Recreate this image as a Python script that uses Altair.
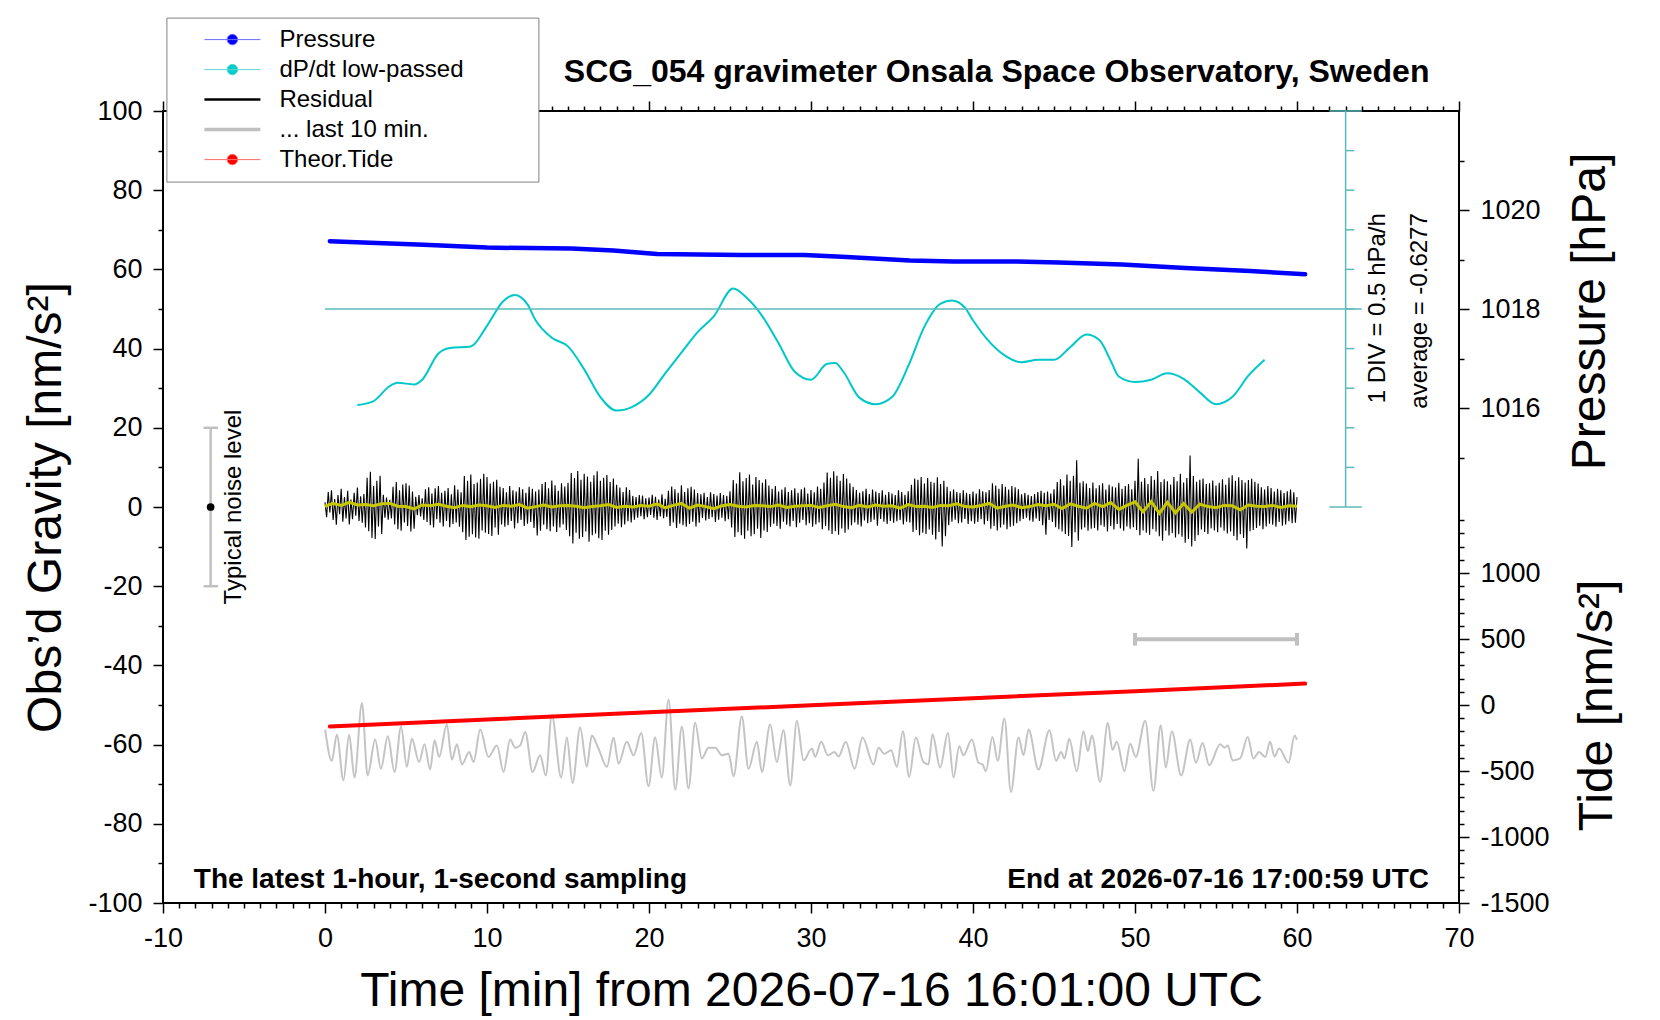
import altair as alt
import pandas as pd

FONT = "Liberation Sans"

# ---------------------------------------------------------------------------
# values
# ---------------------------------------------------------------------------

# residual gravity [nm/s^2], one value every 0.1 min from t = 0 to t = 60
residual_nm = [
    1.2, -2.6, 3.8, -1.4, 4.2, -3.3, 2.0, -4.5, 3.0, -1.8, 4.6, -3.7, 2.5, -2.9, 4.1, -4.4, 1.9, -3.1, 3.6, -2.2, 4.9, -3.5, 2.7, -4.0, 3.3,
    -5.2, 7.4, -6.1, 8.9, -7.8, 5.3, -8.1, 6.6, -4.9, 7.9, -6.8, 3.1, -2.7, 2.4, -3.2, 1.8, -2.9, 5.1, -4.4, 6.3, -5.6, 4.2, -6.0, 5.7, -3.9,
    6.0, -4.8, 5.4, -6.2, 3.9, -5.5, 2.6, -2.1, 3.0, -2.4, 2.2, -3.3, 4.5, -3.8, 5.0, -4.6, 3.4, -5.2, 4.7, -3.1, 5.3, -4.0, 3.6, -4.9, 4.1,
    -3.5, 4.8, -5.1, 3.2, -4.3, 5.5, -3.9, 4.4, -5.0, 3.7, -6.4, 7.8, -8.3, 6.6, -7.5, 8.2, -6.9, 5.8, -7.7, 6.2, -8.0, 7.1, -5.9, 8.4, -6.5,
    7.6, -6.8, 5.9, -7.3, 6.4, -5.2, 6.9, -7.0, 5.1, -4.4, 4.8, -5.0, 3.7, -4.6, 5.3, -3.5, 4.2, -5.4, 3.9, -4.1, 5.0, -3.3, 4.5, -4.8, 3.6,
    -4.2, 5.1, -3.8, 4.6, -5.3, 3.9, -7.2, 4.4, -6.0, 5.8, -4.5, 6.3, -5.6, 4.7, -6.1, 6.7, -4.9, 5.5, -6.3, 4.1, -5.2, 6.0, -4.4, 5.2, -5.8,
    6.1, -7.4, 8.6, -9.2, 7.3, -6.5, 9.1, -8.0, 6.9, -7.6, 8.4, -6.2, 7.7, -8.8, 6.4, -7.1, 8.0, -6.7, 9.0, -7.9, 6.6, -8.3, 7.4, -6.0, 8.1,
    -7.0, 6.3, -5.8, 7.2, -4.9, 5.6, -4.2, 4.9, -5.1, 3.8, -4.4, 5.0, -3.6, 4.3, -3.9, 2.8, -3.2, 2.5, -2.7, 3.0, -2.3, 2.9, -3.1, 2.2, -2.6,
    2.4, -2.0, 3.1, -2.7, 2.6, -3.3, 1.9, -2.4, 3.2, -2.8, 2.1, -2.5, 4.1, -4.8, 5.2, -3.9, 4.5, -5.3, 3.6, -4.2, 5.5, -4.6, 3.8, -5.0, 4.7,
    -4.3, 5.1, -3.7, 4.4, -4.9, 3.5, -4.0, 3.2, -2.8, 3.6, -3.4, 2.5, -3.0, 3.7, -2.6, 3.3, -3.8, 2.9, -3.2, 3.5, -2.7, 3.0, -3.6, 2.8, -3.1,
    4.0, -5.2, 6.8, -7.6, 5.9, -6.4, 8.8, -7.1, 6.5, -8.0, 7.3, -6.0, 8.2, -7.4, 5.7, -6.9, 7.6, -5.5, 6.8, -7.8, 6.1, -5.9, 7.0, -6.3, 5.4,
    -5.0, 4.6, -4.2, 5.3, -4.8, 3.9, -5.5, 4.4, -3.7, 5.0, -4.5, 3.8, -4.9, 4.2, -3.5, 4.7, -5.1, 3.6, -4.0, 4.5, -3.3, 4.9, -4.6, 3.4, -4.1,
    4.3, -5.0, 3.7, -4.4, 5.2, -3.9, 4.6, -5.6, 6.2, -4.8, 8.7, -5.9, 7.4, -6.8, 9.0, -6.1, 7.9, -7.0, 6.6, -5.4, 8.3, -6.5, 7.2, -5.7, 6.0,
    -4.6, 5.1, -3.9, 4.3, -4.5, 3.6, -4.9, 4.0, -3.4, 4.6, -4.1, 3.3, -3.8, 4.4, -3.2, 3.9, -4.7, 3.5, -3.0, 4.2, -3.7, 3.1, -4.3, 3.8, -3.5,
    3.4, -4.0, 3.0, -3.6, 4.2, -3.3, 3.8, -4.4, 3.1, -3.7, 4.0, -3.9, 5.6, -6.3, 7.2, -5.8, 6.9, -7.1, 7.6, -6.5, 5.9, -6.8, 7.3, -5.7, 6.4,
    -7.0, 6.1, -8.2, 7.5, -6.3, 5.8, -10.0, 6.6, -7.4, 5.1, -4.6, 4.0, -3.7, 4.4, -3.2, 3.8, -4.1, 3.5, -3.9, 4.2, -3.0, 3.6, -4.3, 3.3, -3.6,
    3.9, -4.2, 3.4, -3.8, 4.5, -3.1, 4.0, -4.4, 3.7, -3.5, 4.3, -5.5, 6.0, -4.8, 5.4, -5.9, 4.6, -5.2, 5.8, -4.5, 5.1, -5.6, 4.4, -5.0, 5.3,
    -4.7, 5.0, -4.1, 4.5, -3.6, 3.2, -3.0, 3.5, -2.7, 3.1, -3.4, 2.8, -3.7, 3.3, -2.9, 3.8, -3.5, 4.1, -4.6, 3.6, -7.0, 3.9, -3.3, 3.4, -3.8,
    4.5, -5.1, 6.3, -5.6, 7.0, -6.2, 5.4, -6.8, 8.2, -7.3, 6.6, -10.1, 7.9, -6.4, 11.8, -8.5, 6.1, -5.7, 6.5, -5.2, 5.9, -6.0, 4.8, -5.5, 6.2,
    -5.3, 4.7, -5.9, 5.5, -4.6, 6.0, -5.0, 4.4, -6.2, 5.6, -4.8, 5.2, -5.7, 4.9, -4.3, 6.1, -5.4, 4.6, -6.0, 5.3, -4.9, 5.8, -5.5, 4.5, -5.1,
    6.6, -5.8, 12.2, -7.1, 6.4, -5.9, 7.3, -6.5, 5.8, -7.0, 7.8, -5.6, 6.9, -6.2, 9.1, -7.4, 6.3, -8.5, 7.0, -6.0, 6.5, -7.2, 5.7, -6.6, 7.6,
    -7.7, 6.5, -6.9, 8.4, -7.5, 6.2, -9.0, 7.3, -8.1, 13.0, -10.0, 7.8, -8.6, 6.4, -7.1, 6.9, -5.7, 7.2, -6.3, 5.8, -6.8, 6.0, -5.4, 6.7, -5.9,
    5.4, -6.4, 6.1, -5.2, 7.0, -6.0, 5.6, -6.7, 7.4, -6.2, 8.0, -7.3, 6.6, -8.4, 7.5, -6.9, 6.8, -7.8, 6.2, -10.5, 6.8, -6.1, 7.1, -5.8, 6.4,
    -5.3, 5.9, -4.7, 5.0, -5.6, 4.4, -4.9, 5.3, -4.2, 4.8, -4.5, 3.9, -5.0, 4.6, -3.8, 4.2, -4.7, 3.5, -4.4, 4.0, -3.6, 4.4, -4.1, 3.7, -4.0,
    2.5,
]

# low-passed residual (yellow), one value every 0.5 min
residual_lp_nm = [
    0.2, 0.9, 0.4, 1.2, 0.5, 0.6, 0.3, 0.8, 0.9, 0.2, 0.1, -0.5, 0.5, 0.3, 0.7, 0.2, -0.2, 0.4, 0.1, 0.5,
    0.3, -0.1, 0.4, 0.2, 0.6, -0.3, 0.1, 0.5, 0.0, 0.3, 0.4, 0.2, -0.2, 0.1, 0.3, 0.6, -0.1, 0.2, 0.0, 0.4,
    0.2, 0.8, -0.2, 0.4, 0.9, -0.3, 0.5, 0.1, -0.4, 0.3, 0.6, 0.2, 0.0, 0.4, 0.3, 0.1, 0.5, -0.1, 0.2, 0.3,
    0.4, -0.1, 0.3, 0.7, 0.1, -0.2, 0.4, 0.0, 0.5, 0.2, 0.3, -0.3, 0.6, 0.1, 0.2, -0.1, 0.4, 0.3, 0.8, 0.1,
    0.0, 0.4, 0.9, -0.3, 0.2, 0.5, -0.2, 0.1, 0.6, 0.3, 0.7, -0.4, 0.8, 0.2, -0.3, 0.9, 0.1, 1.1, -0.6, 0.4,
    1.3, -1.2, 1.4, -1.6, 1.2, -1.5, 0.9, -1.3, 0.7, 0.1, -0.2, 0.4, 0.3, -0.7, 0.5, 0.2, 0.1, 0.4, -0.1, 0.3,
    0.2,
]

# "... last 10 min." trace as drawn (stretched over the hour, shifted to -60)
last10_min = [
    0.01, 0.42, 0.73, 1.14, 1.49, 1.82, 2.28, 2.63, 3.10, 3.45, 3.88, 4.29, 4.70, 5.05, 5.36, 5.81, 6.14, 6.49, 6.76, 7.05,
    7.52, 7.83, 8.14, 8.45, 8.90, 9.17, 9.58, 10.09, 10.61, 11.02, 11.43, 11.74, 12.05, 12.36, 12.81, 13.28, 13.63, 14.00, 14.58, 14.93,
    15.28, 15.75, 16.16, 16.47, 16.88, 17.40, 17.81, 18.12, 18.63, 19.05, 19.52, 19.97, 20.38, 20.79, 21.21, 21.62, 22.03, 22.44, 22.85, 23.26,
    23.67, 24.09, 24.50, 24.91, 25.22, 25.73, 26.14, 26.66, 26.97, 27.48, 27.89, 28.30, 28.72, 29.13, 29.54, 30.05,
    30.26, 30.63, 31.04, 31.45, 31.70, 32.15, 32.69, 33.18, 33.86, 34.17, 34.52, 34.95, 35.30, 35.67, 36.06, 36.47, 36.94, 37.25, 37.50, 37.97,
    38.45, 38.80, 39.15, 39.41, 39.93, 40.34, 40.59, 40.79, 41.20, 41.53, 41.94, 42.34, 42.81, 43.12, 43.43, 44.04, 44.72, 45.13, 45.44, 45.65,
    45.94, 46.41, 46.82, 47.09, 47.34, 47.85, 48.32, 48.61, 48.88, 49.35, 49.70, 50.05, 50.63, 51.14, 51.59, 51.90, 52.27, 52.85, 53.41, 53.76,
    54.17, 54.58, 55.26, 55.52, 55.73, 56.02, 56.49, 56.96, 57.31, 57.66, 58.04, 58.34, 58.61, 58.90, 59.48, 59.85, 59.99,
]
last10_nm = [
    -56.2, -64.1, -57.5, -69.0, -57.5, -68.3, -49.5, -67.8, -58.7, -66.1, -57.9, -66.9, -55.4, -65.6, -58.5, -64.4, -59.9, -66.3, -58.9, -63.1,
    -54.9, -63.8, -59.9, -65.0, -61.9, -64.4, -56.2, -63.1, -60.2, -66.9, -58.7, -60.8, -60.2, -56.8, -66.9, -62.7, -67.8, -52.6, -68.3, -58.2,
    -69.7, -55.7, -65.6, -57.7, -61.0, -65.6, -58.3, -64.8, -59.3, -62.7, -57.1, -70.5, -58.2, -68.3, -48.6, -71.4, -55.4, -71.1, -54.5, -63.5,
    -60.8, -60.8, -62.7, -62.3, -68.0, -52.9, -66.1, -59.3, -66.9, -54.9, -64.4, -56.4, -70.3, -54.0, -64.0, -61.0,
    -63.1, -59.3, -62.7, -61.9, -63.0, -59.3, -66.1, -58.2, -65.0, -60.8, -62.3, -61.4, -65.6, -56.6, -68.2, -58.2, -64.4, -65.0, -57.4, -65.8,
    -57.1, -68.3, -60.4, -62.7, -58.7, -64.6, -65.0, -66.7, -58.1, -64.1, -53.4, -72.0, -58.2, -62.7, -56.2, -66.3, -56.4, -64.1, -61.9, -63.5,
    -58.5, -66.7, -56.6, -61.6, -57.7, -69.4, -54.5, -61.3, -59.3, -66.7, -59.8, -63.1, -54.0, -71.7, -55.1, -65.8, -56.6, -67.8, -58.7, -64.6,
    -59.6, -65.2, -59.9, -60.8, -60.2, -64.0, -63.5, -58.1, -63.5, -61.9, -63.1, -59.3, -63.0, -61.0, -64.6, -57.7, -58.8,
]

pressure_min = [0.3, 6.1, 10.0, 15.2, 17.8, 20.5, 25.7, 29.6, 32.2, 36.1, 38.8, 42.7, 45.3, 49.2, 53.1, 57.1, 60.5]
pressure_hpa = [1019.37, 1019.30, 1019.24, 1019.22, 1019.18, 1019.11, 1019.09, 1019.09, 1019.05, 1018.98,
                1018.96, 1018.96, 1018.94, 1018.90, 1018.83, 1018.77, 1018.70]

tide_min = [0.3, 10.0, 20.0, 30.0, 40.0, 50.0, 60.5]
tide_nm = [-162, -110, -55, -2, 52, 105, 162]

dpdt_min = [2.0, 3.0, 4.0, 4.5, 5.5, 6.0, 7.0, 7.7, 9.0, 10.0, 11.0, 11.7, 12.5, 13.0, 14.0, 15.0, 16.0, 17.0, 18.0, 19.0,
            20.0, 21.0, 22.0, 23.0, 24.0, 25.2, 26.0, 27.0, 28.0, 29.0, 30.0, 31.0, 31.5, 32.0, 33.0, 34.0, 35.0, 36.0, 37.0, 38.0,
            38.7, 39.5, 40.0, 41.0, 42.0, 43.0, 44.0, 45.0, 46.0, 47.0, 47.8, 48.5, 49.0, 50.0, 51.0, 52.0, 53.0, 54.0, 55.0, 56.0,
            57.0, 58.0]
dpdt_hpa_h = [-1.84, -1.79, -1.60, -1.56, -1.58, -1.52, -1.19, -1.12, -1.10, -0.84, -0.53, -0.45, -0.57, -0.77, -0.99, -1.10, -1.39, -1.74, -1.91, -1.86,
              -1.71, -1.44, -1.18, -0.92, -0.72, -0.37, -0.48, -0.72, -1.06, -1.42, -1.52, -1.32, -1.31, -1.42, -1.75, -1.83, -1.74, -1.35, -0.85, -0.56,
              -0.52, -0.61, -0.77, -1.04, -1.22, -1.30, -1.27, -1.27, -1.11, -0.95, -1.02, -1.28, -1.48, -1.55, -1.52, -1.44, -1.51, -1.68, -1.83, -1.74,
              -1.47, -1.27]
DPDT_AVG = -0.6277

series_names = ["Pressure", "dP/dt low-passed", "Residual", "... last 10 min.", "Theor.Tide"]
series_fill = ["#0000ff", "#00cccc", "#000000", "#c0c0c0", "#ff0000"]
series_stroke = ["#6a6aff", "#5fd6d6", "#000000", "#c0c0c0", "#ff6a6a"]
series_width = [1, 1, 2.5, 3.5, 1]
LINE_DOT = "M-4,0H4M0.75,0A0.75,0.75,0,1,1,-0.75,0A0.75,0.75,0,1,1,0.75,0Z"
LINE_ONLY = "M-4,0H4"
series_shape = [LINE_DOT, LINE_DOT, LINE_ONLY, LINE_ONLY, LINE_DOT]

time_ticks = list(range(-10, 71))
grav_ticks = list(range(-100, 101, 10))
pres_ticks = list(range(1015, 1022))
tide_ticks = list(range(-1500, 1401, 100))
div_ticks = list(range(10, 100, 10))


def major_size(expr):
    return {"condition": {"test": expr, "value": 10}, "value": 5}


# ---------------------------------------------------------------------------
# scales and axes
# ---------------------------------------------------------------------------
x_scale = alt.Scale(domain=[-10, 70], nice=False, zero=False)
g_scale = alt.Scale(domain=[-100, 100], nice=False, zero=False)

x_bottom = alt.Axis(
    orient="bottom", values=time_ticks, title="Time [min] from 2026-07-16 16:01:00 UTC",
    labelExpr="datum.value % 10 === 0 ? '' + datum.value : ''",
    tickSize=major_size("datum.value % 10 === 0"),
    labelPadding=12, labelFlush=False, labelOverlap=False,
    titleFontSize=48, titleX=648, titleY=102, titleAlign="center", titleBaseline="alphabetic",
)
x_top = alt.Axis(
    orient="top", values=time_ticks, labels=False, title=None,
    tickSize=major_size("datum.value % 10 === 0"),
)
y_left = alt.Axis(
    orient="left", values=grav_ticks, title="Obs\u2019d Gravity [nm/s\u00b2]",
    labelExpr="datum.value % 20 === 0 ? '' + datum.value : ''",
    tickSize=major_size("datum.value % 20 === 0"),
    labelPadding=11, labelOverlap=False, labelFlush=False,
    titleFontSize=48, titleAngle=270, titleX=-103, titleY=396, titleAlign="center", titleBaseline="alphabetic",
)
y_pres = alt.Axis(
    orient="right", values=pres_ticks, title="Pressure [hPa]",
    labelExpr="datum.value % 2 === 0 ? '' + datum.value : ''",
    tickSize=major_size("datum.value % 2 === 0"),
    labelPadding=11, labelOverlap=False, labelFlush=False,
    titleFontSize=48, titleAngle=270, titleX=145, titleY=200, titleAlign="center", titleBaseline="alphabetic",
)
y_tide = alt.Axis(
    orient="right", values=tide_ticks, title="Tide [nm/s\u00b2]",
    labelExpr="datum.value % 500 === 0 ? '' + datum.value : ''",
    tickSize=major_size("datum.value % 500 === 0"),
    labelPadding=11, labelOverlap=False, labelFlush=False,
    titleFontSize=48, titleAngle=270, titleX=152, titleY=594, titleAlign="center", titleBaseline="alphabetic",
)

X = alt.X("t:Q", scale=x_scale, axis=x_bottom)
Y = alt.Y("g:Q", scale=g_scale, axis=y_left)

# ---------------------------------------------------------------------------
# gravity-scaled layers
# ---------------------------------------------------------------------------
n_res = len(residual_nm)
res_df = pd.DataFrame({"t": [i * 60.0 / (n_res - 1) for i in range(n_res)], "g": residual_nm})
lp_df = pd.DataFrame({"t": [i * 0.5 for i in range(len(residual_lp_nm))], "g": residual_lp_nm})
last_df = pd.DataFrame({"t": last10_min, "g": last10_nm})
dpdt_df = pd.DataFrame({"t": dpdt_min, "dpdt": dpdt_hpa_h})

residual = alt.Chart(res_df).mark_line(color="black", strokeWidth=1.1).encode(x=X, y=Y)
lowpass = alt.Chart(lp_df).mark_line(color="#c8c800", strokeWidth=3).encode(x=X, y=Y)
last10 = alt.Chart(last_df).mark_line(color="#c4c4c4", strokeWidth=2, interpolate="monotone").encode(x=X, y=Y)
dpdt = (
    alt.Chart(dpdt_df)
    .transform_calculate(g=f"50 + (datum.dpdt - ({DPDT_AVG})) * 20")
    .mark_line(color="#00c8c8", strokeWidth=2, interpolate="monotone")
    .encode(x=X, y=Y)
)

# dP/dt scale bar (1 DIV = 10 gravity units) and its average line
div_rows = [(0, 64, 50, 50), (63, 63, 0, 100), (62, 64, 0, 0), (62, 64, 100, 100)]
div_rows += [(63, 63.54, v, v) for v in div_ticks]
div_df = pd.DataFrame(div_rows, columns=["t", "t2", "g", "g2"])
div_rules = alt.Chart(div_df).mark_rule(color="#5cbaba", strokeWidth=1.5).encode(
    x=X, x2="t2:Q", y=Y, y2="g2:Q"
)

noise_df = pd.DataFrame(
    [(-7.06, -7.06, -20, 20), (-7.5, -6.6, -20, -20), (-7.5, -6.6, 20, 20)],
    columns=["t", "t2", "g", "g2"],
)
noise_bar = alt.Chart(noise_df).mark_rule(color="#c0c0c0", strokeWidth=2.5).encode(
    x=X, x2="t2:Q", y=Y, y2="g2:Q"
)
noise_dot = alt.Chart(pd.DataFrame({"t": [-7.06], "g": [0]})).mark_point(
    filled=True, color="black", size=60, opacity=1
).encode(x=X, y=Y)

span_df = pd.DataFrame(
    [(50, 60, -33.4, -33.4), (50, 50, -35.0, -31.8), (60, 60, -35.0, -31.8)],
    columns=["t", "t2", "g", "g2"],
)
span_bar = alt.Chart(span_df).mark_rule(color="#c0c0c0", strokeWidth=4).encode(
    x=X, x2="t2:Q", y=Y, y2="g2:Q"
)

vtext_df = pd.DataFrame({
    "t": [-5.64, 65.0, 67.6],
    "g": [0.0, 50.2, 49.5],
    "label": ["Typical noise level", "1 DIV = 0.5 hPa/h", f"average = {DPDT_AVG}"],
})
vtexts = alt.Chart(vtext_df).mark_text(
    angle=270, align="center", baseline="middle", font=FONT, fontSize=24, color="black"
).encode(x=X, y=Y, text="label:N")

foot_left = alt.Chart(pd.DataFrame({"t": [-8.1], "g": [-96.1], "label": ["The latest 1-hour, 1-second sampling"]})).mark_text(
    align="left", baseline="alphabetic", font=FONT, fontSize=28, fontWeight="bold", color="black"
).encode(x=X, y=Y, text="label:N")
foot_right = alt.Chart(pd.DataFrame({"t": [68.15], "g": [-96.1], "label": ["End at 2026-07-16 17:00:59 UTC"]})).mark_text(
    align="right", baseline="alphabetic", font=FONT, fontSize=28, fontWeight="bold", color="black"
).encode(x=X, y=Y, text="label:N")
heading = alt.Chart(pd.DataFrame({"t": [41.46], "g": [107.2], "label": ["SCG_054 gravimeter Onsala Space Observatory, Sweden"]})).mark_text(
    align="center", baseline="alphabetic", font=FONT, fontSize=32, fontWeight="bold", color="black"
).encode(x=X, y=Y, text="label:N")

# legend: points placed outside the x domain and clipped, only the legend shows
LEG = alt.Legend(
    title="\u00a0", titleOrient="right", titleFontSize=1, titlePadding=65,
    orient="none", legendX=3.4, legendY=-93.4, padding=10,
    fillColor="white", strokeColor="#808080",
    symbolSize=196, symbolOffset=44, labelOffset=35, rowPadding=6,
    labelFont=FONT, labelFontSize=24, labelColor="black", labelLimit=400,
)
legend_df = pd.DataFrame({"series": series_names, "t": [-100] * 5, "g": [0] * 5})
legend_layer = alt.Chart(legend_df).mark_point(clip=True, size=196, opacity=1).encode(
    x=X, y=Y,
    fill=alt.Fill("series:N", scale=alt.Scale(domain=series_names, range=series_fill), legend=LEG),
    stroke=alt.Stroke("series:N", scale=alt.Scale(domain=series_names, range=series_stroke), legend=LEG),
    shape=alt.Shape("series:N", scale=alt.Scale(domain=series_names, range=series_shape), legend=LEG),
    strokeWidth=alt.StrokeWidth(
        "series:N", scale=alt.Scale(type="ordinal", domain=series_names, range=series_width), legend=LEG
    ),
)

gravity = alt.layer(
    last10, residual, lowpass, dpdt, div_rules, noise_bar, noise_dot, span_bar,
    vtexts, foot_left, foot_right, heading, legend_layer,
)

# ---------------------------------------------------------------------------
# pressure and tide on their own right-hand scales
# ---------------------------------------------------------------------------
press_df = pd.DataFrame({"t": pressure_min, "p": pressure_hpa})
pressure = alt.Chart(press_df).mark_line(color="#0000ff", strokeWidth=4.5, strokeCap="round").encode(
    x=alt.X("t:Q", scale=x_scale, axis=x_top),
    y=alt.Y("p:Q", scale=alt.Scale(domain=[1006, 1022], nice=False, zero=False), axis=y_pres),
)

tide_df = pd.DataFrame({"t": tide_min, "tide": tide_nm})
tide = alt.Chart(tide_df).mark_line(color="#ff0000", strokeWidth=4, strokeCap="round").encode(
    x=alt.X("t:Q", scale=x_scale, axis=None),
    y=alt.Y("tide:Q", scale=alt.Scale(domain=[-1500, 4500], nice=False, zero=False), axis=y_tide),
)

chart = (
    alt.layer(gravity, pressure, tide)
    .resolve_scale(y="independent")
    .resolve_axis(x="independent", y="independent")
    .properties(
        width=1296,
        height=792,
        padding={"left": 155, "top": 103, "right": 170, "bottom": 113},
        autosize=alt.AutoSizeParams(type="none"),
    )
    .configure_view(stroke="black", strokeWidth=2)
    .configure_axis(
        domain=False, grid=False, tickColor="black", tickWidth=1.5,
        labelFont=FONT, labelFontSize=27, labelColor="black",
        titleFont=FONT, titleFontWeight="normal", titleColor="black",
    )
)

chart.save("out.html", embed_options={"renderer": "svg", "actions": False})
